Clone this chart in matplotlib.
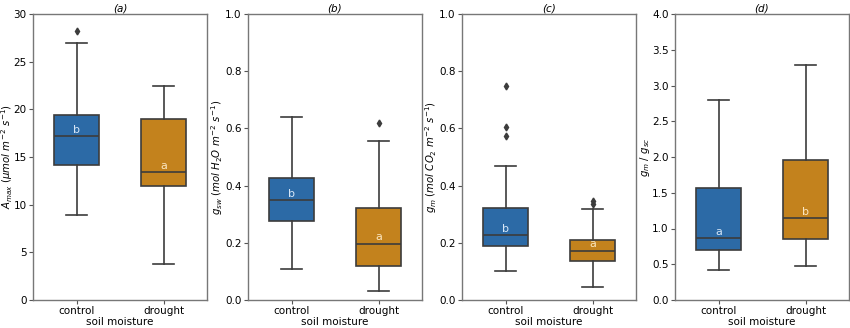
import matplotlib
matplotlib.use("Agg")
import matplotlib.pyplot as plt

groups = ["control", "drought"]
panel_titles = ["(a)", "(b)", "(c)", "(d)"]
ylabels = [
    r"$A_{max}$ ($\mu mol\ m^{-2}\ s^{-1}$)",
    r"$g_{sw}$ ($mol\ H_2O\ m^{-2}\ s^{-1}$)",
    r"$g_m$ ($mol\ CO_2\ m^{-2}\ s^{-1}$)",
    r"$g_m\ /\ g_{sc}$",
]
ylims = [(0, 30), (0, 1.0), (0, 1.0), (0, 4.0)]
yticks = [
    [0, 5, 10, 15, 20, 25, 30],
    [0.0, 0.2, 0.4, 0.6, 0.8, 1.0],
    [0.0, 0.2, 0.4, 0.6, 0.8, 1.0],
    [0.0, 0.5, 1.0, 1.5, 2.0, 2.5, 3.0, 3.5, 4.0],
]

# box summaries per panel: [control, drought]
whislo = [[8.9, 3.8], [0.11, 0.032], [0.10, 0.046], [0.42, 0.48]]
q1 = [[14.2, 12.0], [0.275, 0.118], [0.19, 0.137], [0.70, 0.86]]
med = [[17.2, 13.4], [0.348, 0.197], [0.227, 0.173], [0.87, 1.15]]
q3 = [[19.4, 19.0], [0.425, 0.32], [0.32, 0.21], [1.56, 1.96]]
whishi = [[27.0, 22.4], [0.64, 0.555], [0.47, 0.318], [2.80, 3.28]]
fliers = [
    [[28.2], []],
    [[], [0.62]],
    [[0.75, 0.605, 0.575], [0.345, 0.335]],
    [[], []],
]
letters = [["b", "a"], ["b", "a"], ["b", "a"], ["a", "b"]]

colors = ["#2c6aa6", "#c3821d"]
letter_colors = ["#d6e6f7", "#fbe6c0"]
edge = "#3c3c3c"

W, H = 850, 328
fig = plt.figure(figsize=(W / 100, H / 100), dpi=100)
lefts = [33, 248, 462, 675]
ylabel_x = [-0.15, -0.18, -0.175, -0.172]
fs = 7.5
for i in range(4):
    ax = fig.add_axes([lefts[i] / W, 28 / H, 174 / W, 286 / H])
    stats = []
    for j in range(2):
        stats.append(dict(
            whislo=whislo[i][j], q1=q1[i][j], med=med[i][j],
            q3=q3[i][j], whishi=whishi[i][j], fliers=fliers[i][j],
            label=groups[j],
        ))
    bp = ax.bxp(
        stats, positions=[0, 1], widths=0.52, patch_artist=True,
        showfliers=True,
        boxprops=dict(edgecolor=edge, linewidth=1.2),
        medianprops=dict(color=edge, linewidth=1.2),
        whiskerprops=dict(color=edge, linewidth=1.2),
        capprops=dict(color=edge, linewidth=1.2),
        flierprops=dict(marker="d", markerfacecolor=edge,
                        markeredgecolor=edge, markersize=3.5),
        capwidths=0.25,
    )
    for patch, c in zip(bp["boxes"], colors):
        patch.set_facecolor(c)
    for j in range(2):
        ax.annotate(letters[i][j], (j, med[i][j]), xytext=(0, 4.5),
                    textcoords="offset points", ha="center", va="center",
                    color=letter_colors[j], fontsize=8)
    ax.set_xlim(-0.5, 1.5)
    ax.set_ylim(*ylims[i])
    ax.set_yticks(yticks[i])
    if i == 0:
        ax.set_yticklabels([str(t) for t in yticks[i]])
    else:
        ax.set_yticklabels([f"{t:.1f}" for t in yticks[i]])
    ax.set_xticks([0, 1])
    ax.set_xticklabels(groups)
    ax.tick_params(labelsize=fs, color="#555555", length=3, pad=1.5)
    ax.set_xlabel("soil moisture", fontsize=fs, va="center")
    ax.xaxis.set_label_coords(0.5, -0.077)
    ax.set_ylabel(ylabels[i], fontsize=7.3, va="center")
    ax.yaxis.set_label_coords(ylabel_x[i], 0.5)
    ax.set_title(panel_titles[i], fontsize=7.5, style="italic", pad=2)
    for s in ax.spines.values():
        s.set_color("#777777")
        s.set_linewidth(1.0)

fig.savefig("out.png", dpi=100)
